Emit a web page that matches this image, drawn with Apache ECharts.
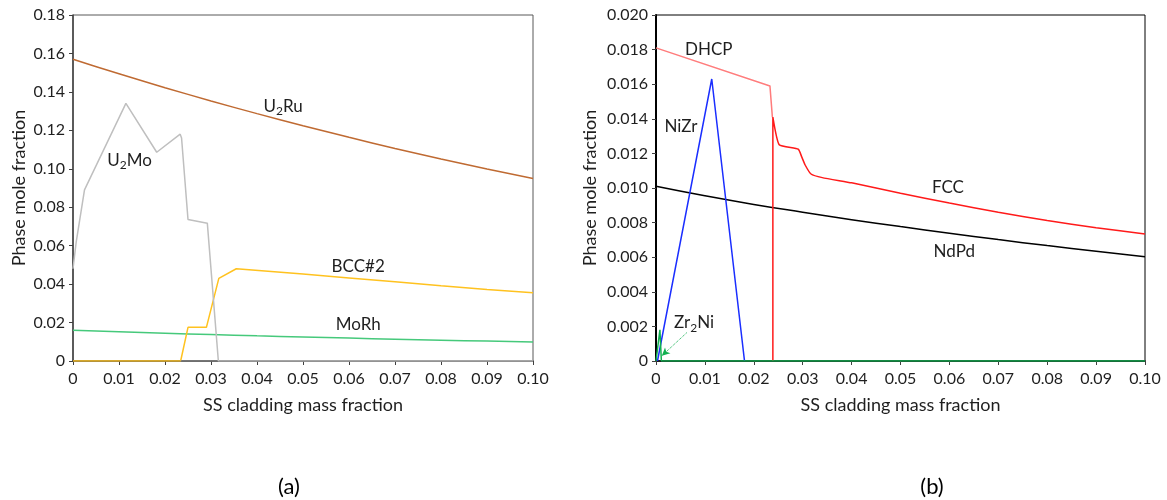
<!DOCTYPE html>
<html><head><meta charset="utf-8">
<script src="https://cdn.jsdelivr.net/npm/echarts@6/dist/echarts.min.js"></script>
<style>html,body{margin:0;padding:0;background:#fff}#c{width:1167px;height:500px}</style>
</head><body><div id="c"></div>
<script>
// ---- Data (a) ----
const U2Ru = [[0,0.157],[0.01,0.1494],[0.02,0.1422],[0.03,0.1353],[0.04,0.1287],[0.05,0.1224],[0.06,0.1164],[0.07,0.1106],[0.08,0.1051],[0.09,0.0999],[0.10,0.0949]];
const U2Mo = [[0,0.048],[0.0007,0.062],[0.0025,0.089],[0.0115,0.134],[0.0182,0.1086],[0.0233,0.118],[0.0236,0.116],[0.025,0.0736],[0.0292,0.0717],[0.0316,0],[0.10,0]];
const BCC2 = [[0,0],[0.0234,0],[0.0250,0.0175],[0.0290,0.0175],[0.0317,0.043],[0.0355,0.048],[0.05,0.0452],[0.06,0.0432],[0.07,0.0412],[0.08,0.0391],[0.09,0.0372],[0.10,0.0355]];
const MoRh = [[0,0.016],[0.01,0.0152],[0.02,0.01445],[0.03,0.01375],[0.04,0.0131],[0.05,0.0125],[0.06,0.01192],[0.07,0.01137],[0.08,0.01085],[0.09,0.01035],[0.10,0.00987]];
const OtherA = [[0.0234,0],[0.0316,0]];
// ---- Data (b) ----
const DHCP = [[0,0.0181],[0.0233,0.0159],[0.0238,0.0141]];
const FCC = [[0.0239,0],[0.0239,0.0141],[0.0252,0.0125],[0.0291,0.01224],[0.0298,0.0118],[0.0305,0.01133],[0.0317,0.01081],[0.034,0.0106],[0.04,0.0103],[0.05,0.0097],[0.06,0.00913],[0.07,0.0086],[0.08,0.00812],[0.09,0.0077],[0.10,0.00734]];
const NiZr = [[0.0003,0],[0.0114,0.0163],[0.0181,0]];
const NdPd = [[0,0.0101],[0.01,0.00955],[0.02,0.00905],[0.03,0.0086],[0.04,0.00817],[0.05,0.00777],[0.06,0.00739],[0.07,0.00702],[0.08,0.00667],[0.09,0.00634],[0.10,0.00603]];
const Zr2Ni = [[0,0],[0.0008,0.0018],[0.0011,0.0018],[0.0011,0],[0.10,0]];

const FONT = 'Lato';
const TXT = '#1f1f1f';
const rich = {
  n:{fontSize:17,fontFamily:FONT,color:TXT,lineHeight:22,verticalAlign:'middle'},
  s:{fontSize:12,fontFamily:FONT,color:TXT,lineHeight:13,verticalAlign:'bottom'}
};
function lbl(text, coord){
  return {coord:coord, symbol:'circle', symbolSize:1, itemStyle:{color:'rgba(0,0,0,0)'},
    label:{show:true, position:'inside', formatter:text, rich:rich, fontFamily:FONT, fontSize:17, color:TXT}};
}
function fmt(d){return v => v===0 ? '0' : v.toFixed(d);}
function xAxis(gi, lineColor){
  return {type:'value', gridIndex:gi, min:0, max:0.1, interval:0.01,
    name:'SS cladding mass fraction', nameLocation:'middle', nameGap:35,
    nameTextStyle:{fontFamily:FONT, fontSize:18, color:TXT},
    axisLine:{show:true, onZero:false, lineStyle:{color:lineColor, width:1.5}},
    axisTick:{show:true, length:4, lineStyle:{color:'#404040'}},
    axisLabel:{formatter:fmt(2), fontFamily:FONT, fontSize:16, color:TXT, margin:10},
    splitLine:{show:false}};
}
function yAxis(gi, max, interval, dec, gap, lineColor){
  return {type:'value', gridIndex:gi, min:0, max:max, interval:interval,
    name:'Phase mole fraction', nameLocation:'middle', nameGap:gap,
    nameTextStyle:{fontFamily:FONT, fontSize:18, color:TXT},
    axisLine:{show:true, lineStyle:{color:lineColor, width:lineColor==='#000'?2:1.5}},
    axisTick:{show:true, length:4, lineStyle:{color:'#404040'}},
    axisLabel:{formatter:fmt(dec), fontFamily:FONT, fontSize:16, color:TXT, margin:8},
    splitLine:{show:false}};
}
function line(name, data, color, xi, extra){
  return Object.assign({type:'line', name:name, data:data, xAxisIndex:xi, yAxisIndex:xi,
    showSymbol:false, symbol:'none', lineStyle:{color:color, width:1.5}, itemStyle:{color:color},
    animation:false}, extra||{});
}
const chart = echarts.init(document.getElementById('c'), null, {renderer:'canvas'});
chart.setOption({
  animation:false,
  backgroundColor:'#fff',
  grid:[
    {left:73, top:15, width:460, height:346, show:true, borderColor:'#595959', borderWidth:1, backgroundColor:'transparent'},
    {left:656, top:15, width:489, height:346, show:true, borderColor:'#000', borderWidth:1, backgroundColor:'transparent'}
  ],
  xAxis:[xAxis(0,'#404040'), xAxis(1,'#000')],
  yAxis:[yAxis(0,0.18,0.02,2,45,'#404040'), yAxis(1,0.02,0.002,3,57,'#000')],
  title:[
    {text:'(a)', left:284, top:471, textAlign:'center', textStyle:{fontFamily:FONT, fontSize:22, fontWeight:'normal', color:'#000'}},
    {text:'(b)', left:927, top:471, textAlign:'center', textStyle:{fontFamily:FONT, fontSize:22, fontWeight:'normal', color:'#000'}}
  ],
  series:[
    line('U2Ru', U2Ru, '#BF6A32', 0, {smooth:true, markPoint:{data:[lbl('{n|U}{s|2}{n|Ru}', [0.0457,0.1325])]}}),
    line('MoRh', MoRh, '#46C97B', 0, {smooth:true, markPoint:{data:[lbl('{n|MoRh}', [0.0620,0.0190])]}}),
    line('BCC#2', BCC2, '#FFC21F', 0, {markPoint:{data:[lbl('{n|BCC#2}', [0.0620,0.0493])]}}),
    line('Other', OtherA, '#7F7F7F', 0),
    line('U2Mo', U2Mo, '#BFBFBF', 0, {markPoint:{data:[lbl('{n|U}{s|2}{n|Mo}', [0.0123,0.1045])]}}),
    line('NdPd', NdPd, '#000', 1, {smooth:true, markPoint:{data:[lbl('{n|NdPd}', [0.0610,0.0063])]}}),
    line('DHCP', DHCP, '#FF7C7C', 1, {markPoint:{data:[lbl('{n|DHCP}', [0.0108,0.0180])]}}),
    line('FCC', FCC, '#FF1A1A', 1, {smooth:0.15, markPoint:{data:[lbl('{n|FCC}', [0.0597,0.0100])]}}),
    line('NiZr', NiZr, '#1A2EFF', 1, {markPoint:{data:[lbl('{n|NiZr}', [0.0051,0.01355])]}}),
    line('Zr2Ni', Zr2Ni, '#10B050', 1, {z:5,
      markPoint:{data:[lbl('{n|Zr}{s|2}{n|Ni}', [0.0078,0.0022])]},
      markLine:{silent:true, symbol:['none','arrow'], symbolSize:[6,8], animation:false,
        lineStyle:{color:'#10B050', type:'dotted', width:1}, label:{show:false},
        data:[[{coord:[0.0063,0.00164]},{coord:[0.0012,0.0003]}]]}})
  ]
});
</script></body></html>
